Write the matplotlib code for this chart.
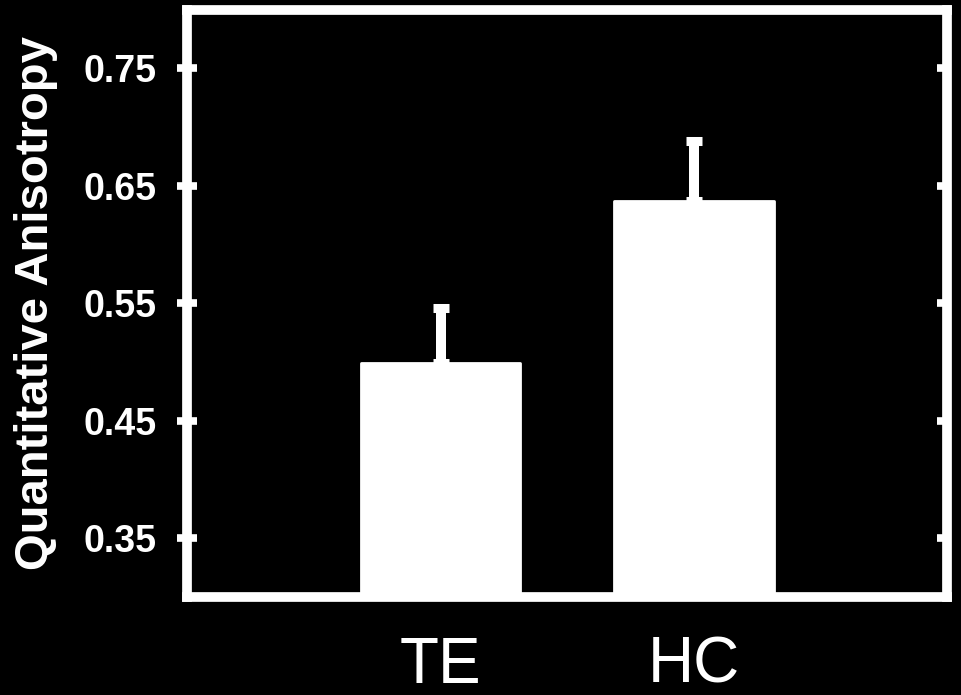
import matplotlib.pyplot as plt

# group means and upper error (SE) for quantitative anisotropy
groups = ["TE", "HC"]
qa_mean = [0.499, 0.637]
qa_err = [0.047, 0.051]
y_ticks = [0.35, 0.45, 0.55, 0.65, 0.75]
y_tick_labels = ["0.35", "0.45", "0.55", "0.65", "0.75"]

plt.rcParams['font.family'] = ['Liberation Sans', 'DejaVu Sans']

fig = plt.figure(figsize=(9.61, 6.95), dpi=100, facecolor='black')
ax = fig.add_axes([0.1951, 0.141, 0.7903, 0.8453], facecolor='black')

x = [1, 2]
ax.bar(x, qa_mean, width=0.63, bottom=0, color='white', edgecolor='white',
       linewidth=2, joinstyle='round', zorder=2)
ax.errorbar(x, qa_mean, yerr=[[0, 0], qa_err], fmt='none', ecolor='white',
            elinewidth=7.2, capsize=5.8, capthick=6.5, zorder=1)

ax.set_xlim(0, 3)
ax.set_ylim(0.3, 0.8)

for side in ['left', 'right', 'top', 'bottom']:
    ax.spines[side].set_color('white')
    ax.spines[side].set_linewidth(7)
    ax.spines[side].set_capstyle('projecting')

ax.set_yticks(y_ticks)
ax.set_yticklabels(y_tick_labels, fontsize=27, fontweight='bold', color='white')
ax.tick_params(axis='y', direction='inout', length=13.7, width=5.5,
               color='white', pad=15.5)

ax.set_xticks(x)
ax.set_xticklabels(groups, fontsize=46, color='white')
ax.tick_params(axis='x', length=0, pad=28)

# right-hand ticks point inward only
ax2 = ax.twinx()
ax2.set_ylim(ax.get_ylim())
ax2.set_yticks(y_ticks)
ax2.set_yticklabels([])
ax2.tick_params(axis='y', direction='in', length=7.2, width=5.5, color='white')
for s in ax2.spines.values():
    s.set_visible(False)

ax.set_ylabel("Quantitative Anisotropy", fontsize=34, fontweight='bold',
              color='white')
ax.yaxis.set_label_coords(-0.17, 0.5)

fig.savefig("out.png", dpi=100, facecolor='black')
